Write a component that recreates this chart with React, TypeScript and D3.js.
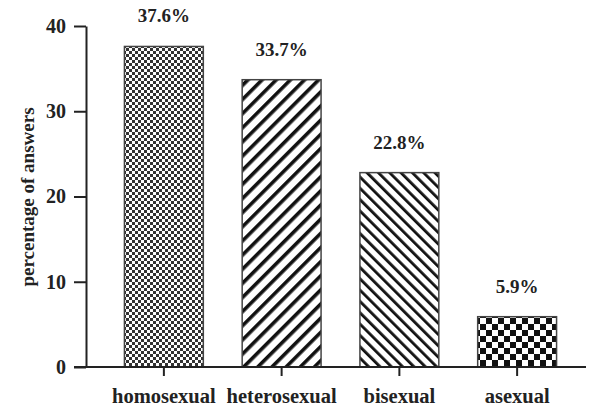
import React, { useEffect, useRef } from "react";
import * as d3 from "d3";

const categories = ["homosexual", "heterosexual", "bisexual", "asexual"];
const values = [37.6, 33.7, 22.8, 5.9];
const valueLabels = ["37.6%", "33.7%", "22.8%", "5.9%"];
const patterns = ["checkFine", "diagUp", "diagDown", "checkBig"];
const yTicks = [0, 10, 20, 30, 40];

export default function App() {
    const chart = useRef<SVGSVGElement | null>(null);

    useEffect(() => {
        const width = 593;
        const height = 408;
        const svg = d3.select(chart.current)
            .attr("width", width)
            .attr("height", height);
        const font = "'Liberation Serif', 'DejaVu Serif', serif";

        const defs = svg.append("defs");

        // fine checkerboard
        const p1 = defs.append("pattern").attr("id", "checkFine")
            .attr("patternUnits", "userSpaceOnUse").attr("width", 6).attr("height", 6);
        p1.append("rect").attr("width", 6).attr("height", 6).attr("fill", "#fff");
        p1.append("rect").attr("width", 3).attr("height", 3).attr("fill", "#333");
        p1.append("rect").attr("x", 3).attr("y", 3).attr("width", 3).attr("height", 3).attr("fill", "#333");

        // big checkerboard
        const p4 = defs.append("pattern").attr("id", "checkBig")
            .attr("patternUnits", "userSpaceOnUse").attr("width", 12).attr("height", 12);
        p4.append("rect").attr("width", 12).attr("height", 12).attr("fill", "#fff");
        p4.append("rect").attr("width", 6).attr("height", 6).attr("fill", "#111");
        p4.append("rect").attr("x", 6).attr("y", 6).attr("width", 6).attr("height", 6).attr("fill", "#111");

        // diagonal "/"
        const p2 = defs.append("pattern").attr("id", "diagUp")
            .attr("patternUnits", "userSpaceOnUse").attr("width", 10).attr("height", 10)
            .attr("patternTransform", "rotate(45)");
        p2.append("rect").attr("width", 10).attr("height", 10).attr("fill", "#fff");
        p2.append("rect").attr("width", 3.6).attr("height", 10).attr("fill", "#111");

        // diagonal "\"
        const p3 = defs.append("pattern").attr("id", "diagDown")
            .attr("patternUnits", "userSpaceOnUse").attr("width", 8).attr("height", 8)
            .attr("patternTransform", "rotate(-45)");
        p3.append("rect").attr("width", 8).attr("height", 8).attr("fill", "#fff");
        p3.append("rect").attr("width", 2.8).attr("height", 8).attr("fill", "#111");

        const x = d3.scaleBand()
            .domain(categories)
            .range([105, 576])
            .paddingInner(0.33)
            .paddingOuter(0.165);
        const y = d3.scaleLinear().domain([0, 40]).range([367, 26]);

        // bars
        svg.selectAll(".bar")
            .data(values)
            .enter()
            .append("rect")
            .attr("class", "bar")
            .attr("x", (d, i) => x(categories[i]) as number)
            .attr("y", d => y(d))
            .attr("width", x.bandwidth())
            .attr("height", d => y(0) - y(d))
            .attr("fill", (d, i) => `url(#${patterns[i]})`)
            .attr("stroke", "#444")
            .attr("stroke-width", 1.5);

        // value labels
        svg.selectAll(".val")
            .data(values)
            .enter()
            .append("text")
            .attr("x", (d, i) => (x(categories[i]) as number) + x.bandwidth() / 2)
            .attr("y", d => y(d) - 24)
            .attr("text-anchor", "middle")
            .attr("font-family", font)
            .attr("font-weight", "bold")
            .attr("font-size", 19)
            .attr("fill", "#222")
            .text((d, i) => valueLabels[i]);

        // y axis
        const yAxis = svg.append("g")
            .attr("transform", "translate(86,0)")
            .call(d3.axisLeft(y).tickValues(yTicks).tickSize(12).tickPadding(8).tickSizeOuter(0));
        yAxis.select(".domain").attr("stroke", "#222").attr("stroke-width", 2);
        yAxis.selectAll(".tick line").attr("stroke", "#222").attr("stroke-width", 2);
        yAxis.selectAll(".tick text")
            .attr("font-family", font)
            .attr("font-weight", "bold")
            .attr("font-size", 20)
            .attr("fill", "#222");

        // x axis
        const xAxis = svg.append("g")
            .attr("transform", `translate(0,${y(0)})`);
        xAxis.append("line")
            .attr("x1", 74).attr("x2", 586)
            .attr("stroke", "#222").attr("stroke-width", 2);
        const xa = xAxis.append("g")
            .call(d3.axisBottom(x).tickSize(9).tickPadding(12).tickSizeOuter(0));
        xa.select(".domain").remove();
        xa.selectAll(".tick line").attr("stroke", "#222").attr("stroke-width", 2);
        xa.selectAll(".tick text")
            .attr("font-family", font)
            .attr("font-weight", "bold")
            .attr("font-size", 20.5)
            .attr("fill", "#222");

        // y title
        svg.append("text")
            .attr("transform", "translate(34,197) rotate(-90)")
            .attr("text-anchor", "middle")
            .attr("font-family", font)
            .attr("font-weight", "bold")
            .attr("font-size", 19)
            .attr("fill", "#222")
            .text("percentage of answers");

        return () => {
            svg.selectAll("*").remove();
        };
    }, []);

    return <svg ref={chart} style={{ position: "absolute", left: 0, top: 0 }}></svg>;
}
